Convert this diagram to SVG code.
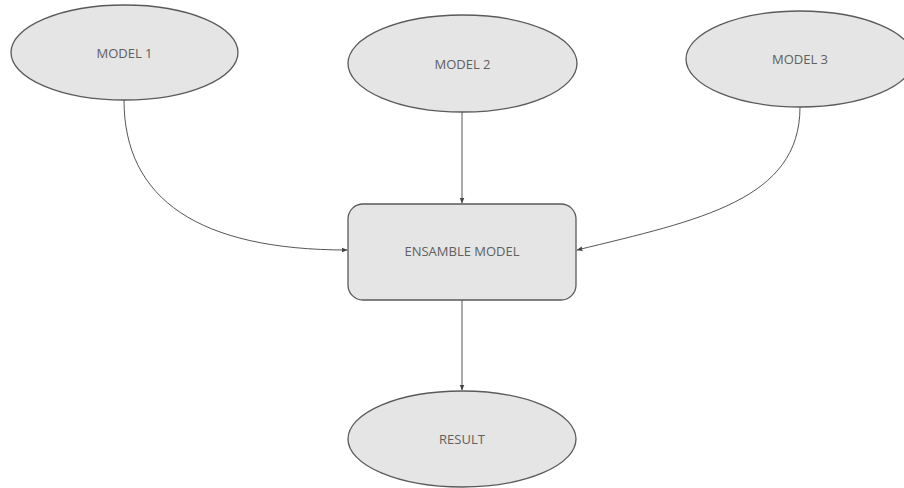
<svg xmlns="http://www.w3.org/2000/svg" width="904" height="488" viewBox="0 0 904 488">
<style>
.node{fill:#e5e5e5;stroke:#5a5a5a;stroke-width:1.3}
.lbl{font-family:"Open Sans","Noto Sans",sans-serif;font-size:13px;fill:#606060;text-anchor:middle}
.edge{fill:none;stroke:#555;stroke-width:1}
</style>
<defs>
<marker id="arr" viewBox="0 0 10 10" refX="9" refY="5" markerWidth="6" markerHeight="6" orient="auto" markerUnits="userSpaceOnUse">
<path d="M0,1 L10,5 L0,9 Z" fill="#444"/>
</marker>
</defs>
<rect width="904" height="488" fill="#fff"/>
<g id="connectors">
<path class="edge" d="M124,100 C124,200 200,250 347,250" marker-end="url(#arr)"/>
<path class="edge" d="M462,112 L462,203" marker-end="url(#arr)"/>
<path class="edge" d="M800,107 C800,200 700,220 577,250" marker-end="url(#arr)"/>
<path class="edge" d="M462,300 L462,390" marker-end="url(#arr)"/>
</g>
<g id="model1"><ellipse class="node" cx="124.5" cy="52.5" rx="113.5" ry="47.5"/><text class="lbl" x="124.5" y="58">MODEL 1</text></g>
<g id="model2"><ellipse class="node" cx="462.5" cy="63.5" rx="114.5" ry="48.5"/><text class="lbl" x="462.5" y="69">MODEL 2</text></g>
<g id="model3"><ellipse class="node" cx="800" cy="59" rx="114" ry="48"/><text class="lbl" x="800" y="64">MODEL 3</text></g>
<g id="ensemble"><rect class="node" x="348" y="204" width="228" height="96" rx="15" ry="15"/><text class="lbl" x="462" y="256">ENSAMBLE MODEL</text></g>
<g id="result"><ellipse class="node" cx="462" cy="439" rx="114" ry="48"/><text class="lbl" x="462" y="444">RESULT</text></g>
</svg>
